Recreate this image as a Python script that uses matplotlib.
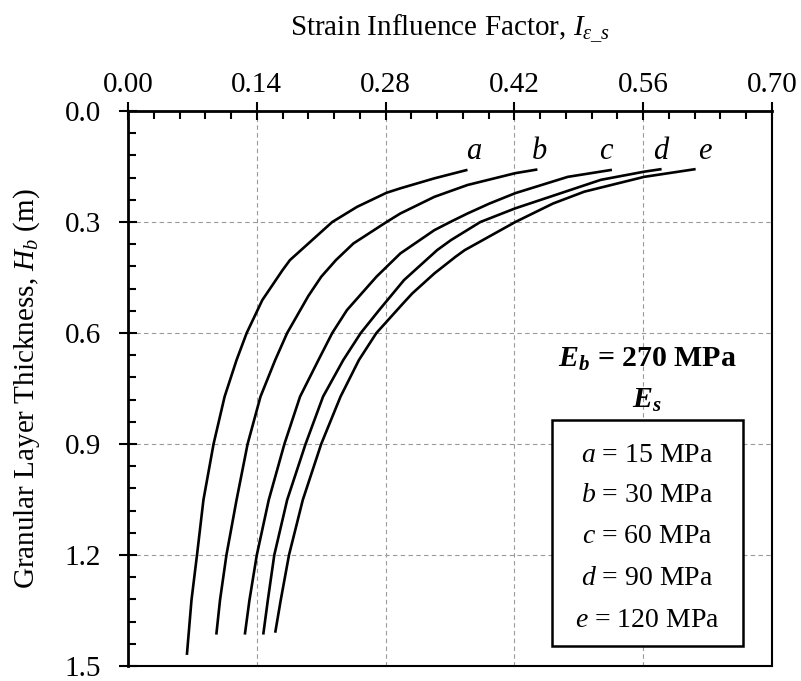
import numpy as np
import matplotlib
matplotlib.use("Agg")
import matplotlib.pyplot as plt
from matplotlib.patches import Rectangle
from matplotlib.ticker import MultipleLocator, FormatStrFormatter

# strain influence factor vs granular layer thickness
labels = ["a", "b", "c", "d", "e"]
es_values = [15, 30, 60, 90, 120]

h_a = [0.159, 0.182, 0.209, 0.221, 0.259, 0.30, 0.403, 0.43, 0.511, 0.60, 0.673,
       0.772, 0.90, 1.051, 1.20, 1.322, 1.47]
i_a = [0.369, 0.333, 0.296, 0.281, 0.249, 0.222, 0.176, 0.168, 0.146, 0.129, 0.118,
       0.105, 0.093, 0.082, 0.075, 0.069, 0.064]

h_b = [0.158, 0.168, 0.20, 0.232, 0.277, 0.30, 0.358, 0.403, 0.448, 0.50, 0.60,
       0.673, 0.772, 0.90, 1.051, 1.20, 1.322, 1.415]
i_b = [0.445, 0.421, 0.369, 0.333, 0.296, 0.281, 0.245, 0.226, 0.210, 0.196, 0.173,
       0.160, 0.144, 0.130, 0.118, 0.107, 0.100, 0.096]

h_c = [0.159, 0.178, 0.222, 0.25, 0.277, 0.299, 0.322, 0.385, 0.448, 0.538, 0.60,
       0.673, 0.772, 0.90, 1.051, 1.20, 1.322, 1.415]
i_c = [0.526, 0.478, 0.421, 0.393, 0.369, 0.351, 0.333, 0.296, 0.270, 0.238, 0.222,
       0.207, 0.187, 0.170, 0.153, 0.140, 0.132, 0.127]

h_d = [0.157, 0.164, 0.186, 0.263, 0.30, 0.349, 0.376, 0.457, 0.538, 0.60, 0.673,
       0.772, 0.90, 1.051, 1.20, 1.322, 1.415]
i_d = [0.580, 0.561, 0.514, 0.421, 0.383, 0.351, 0.336, 0.300, 0.273, 0.253, 0.234,
       0.212, 0.193, 0.173, 0.159, 0.152, 0.147]

h_e = [0.157, 0.178, 0.218, 0.25, 0.30, 0.376, 0.394, 0.439, 0.493, 0.520, 0.60,
       0.673, 0.772, 0.90, 1.051, 1.20, 1.322, 1.41]
i_e = [0.617, 0.561, 0.496, 0.462, 0.421, 0.366, 0.356, 0.333, 0.309, 0.299, 0.270,
       0.251, 0.231, 0.210, 0.190, 0.175, 0.166, 0.160]

# where the italic curve letters sit (x in data units)
label_x = [0.376, 0.447, 0.519, 0.579, 0.627]
label_h = 0.13

plt.rcParams["font.family"] = ["Liberation Serif", "DejaVu Serif"]
plt.rcParams["mathtext.fontset"] = "custom"
plt.rcParams["mathtext.rm"] = "Liberation Serif"
plt.rcParams["mathtext.it"] = "Liberation Serif:italic"
plt.rcParams["mathtext.bf"] = "Liberation Serif:bold"
plt.rcParams["mathtext.bfit"] = "Liberation Serif:italic:bold"

fig = plt.figure(figsize=(8.01, 6.81), dpi=100)
ax = fig.add_axes([0.1598, 0.022, 0.804, 0.815])

curves = [(h_a, i_a), (h_b, i_b), (h_c, i_c), (h_d, i_d), (h_e, i_e)]
for h, i in curves:
    ax.plot(i, h, color="black", lw=1.9, solid_capstyle="butt", solid_joinstyle="round")

for lab, x in zip(labels, label_x):
    ax.text(x, label_h, lab, fontsize=22, style="italic", ha="center", va="baseline")

ax.set_xlim(0, 0.70)
ax.set_ylim(1.5, 0.0)
ax.xaxis.set_major_locator(MultipleLocator(0.14))
ax.xaxis.set_minor_locator(MultipleLocator(0.028))
ax.yaxis.set_major_locator(MultipleLocator(0.3))
ax.yaxis.set_minor_locator(MultipleLocator(0.06))
ax.xaxis.set_major_formatter(FormatStrFormatter("%.2f"))
ax.yaxis.set_major_formatter(FormatStrFormatter("%.1f"))

ax.xaxis.tick_top()
ax.xaxis.set_label_position("top")
ax.tick_params(axis="both", which="major", direction="inout", length=13, width=1.5, labelsize=21)
ax.tick_params(axis="both", which="minor", direction="in", length=6, width=1.5)
ax.tick_params(axis="x", which="major", pad=3)
ax.tick_params(axis="y", which="major", pad=13)
ax.tick_params(axis="x", which="both", bottom=False, top=True)
ax.tick_params(axis="y", which="both", left=True, right=False)

ax.grid(True, which="major", linestyle=(0, (4, 3)), color="#9a9a9a", lw=0.8)
ax.set_axisbelow(True)

for side in ["top", "left"]:
    ax.spines[side].set_linewidth(2.0)
for side in ["bottom", "right"]:
    ax.spines[side].set_linewidth(1.5)

ax.set_xlabel(r"Strain Influence Factor, $I_{\varepsilon\_s}$", fontsize=21, labelpad=26)
ax.set_ylabel(r"Granular Layer Thickness, $H_b$ (m)", fontsize=21, labelpad=16)

# annotation block on the right
ax.text(0.806, 0.539, r"$\mathbfit{E}_{\mathbfit{b}}$ = 270 MPa", transform=ax.transAxes,
        fontsize=21.5, fontweight="bold", ha="center", va="baseline")
ax.text(0.806, 0.465, r"$\mathbfit{E}_{\mathbfit{s}}$", transform=ax.transAxes,
        fontsize=21.5, ha="center", va="baseline")

box = Rectangle((0.658, 0.036), 0.297, 0.407, transform=ax.transAxes,
                facecolor="white", edgecolor="black", lw=1.8, zorder=3)
ax.add_patch(box)

line_y = [0.368, 0.295, 0.222, 0.146, 0.070]
for lab, es, y in zip(labels, es_values, line_y):
    ax.text(0.806, y, r"$\mathit{%s}$ = %d MPa" % (lab, es), transform=ax.transAxes,
            fontsize=20, ha="center", va="baseline", zorder=4)

fig.savefig("out.png", dpi=100)
